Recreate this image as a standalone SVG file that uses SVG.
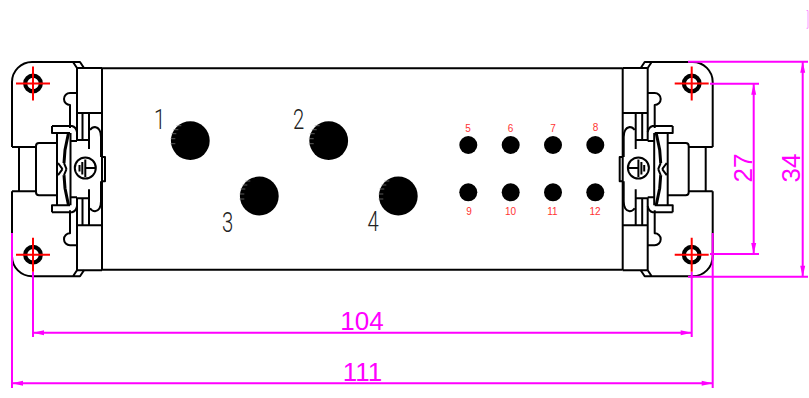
<svg xmlns="http://www.w3.org/2000/svg" width="809" height="398" viewBox="0 0 809 398">
<style>
.k{fill:none;stroke:#000;stroke-width:2;stroke-linejoin:round}
.t{fill:none;stroke:#000;stroke-width:3}
.r{fill:none;stroke:#f00;stroke-width:2}
.m{fill:none;stroke:#f0f;stroke-width:2}
.a{fill:#f0f}
.d{font-family:"Liberation Sans",Arial,sans-serif;font-size:26px;fill:#f0f;text-anchor:middle}
.n{font-family:"Liberation Sans",Arial,sans-serif;font-size:10px;fill:#f33;text-anchor:middle}
.l{font-family:Roboto,"Liberation Sans",sans-serif;font-weight:300;font-size:27px;fill:#222;text-anchor:middle}
</style>
<defs>
<g id="q">
<path class="k" d="M19 169.100V147M12 147V82A20 20 0 0 1 32 62H80L84 68M73 62L77 68M12 147H36M36 169.100V146Q36 143 39 143H57"/>
<path class="k" d="M77 68H102M77 68V140H89M77 113H102M82.500 113V140M89 113V149M77 93H70A6 6 0 0 0 70 105V128"/>
<path class="k" d="M52 126H72Q76 127 77 132M52 126V133H70M70.500 133V169.100M70.500 141H77M90 130Q92 127 95 127Q101 128 101 137V157M102 157H105V169.100"/>
<path class="k" d="M57 133V169.100M58 163L62.500 169.100M64 163L66.500 169.100"/>
<path class="t" d="M68.500 133L65 150L64 163"/>
<circle cx="33" cy="83.500" r="7.800" fill="#fff" stroke="#000" stroke-width="4.200"/>
<path class="r" d="M16 83.500H50M33 66.500V100.500"/>
</g>
<g id="big"><circle r="19.400"/><path d="M-19-7h5M-20-2h5M-20 3h5M-17-11h5M-14-15h5" stroke="#999" stroke-width=".6"/></g>
<path id="ah" class="a" d="M0 0L11-2.500V2.500Z"/>
</defs>
<g id="body"><path class="k" d="M102 68.300H622.700M102 269.700H622.700"/><path class="k" d="M102 68V270M622.700 68V270"/></g>
<g id="flange-left">
<use href="#q"/>
<use href="#q" transform="matrix(1 0 0 -1 0 338.200)"/>
</g>
<g id="flange-right">
<use href="#q" transform="matrix(-1 0 0 1 724.700 0)"/>
<use href="#q" transform="matrix(-1 0 0 -1 724.700 338.200)"/>
</g>
<g id="ground-left"><circle class="k" cx="85.300" cy="168" r="10.500"/><path class="k" d="M85.300 159.500V177M82.300 162V174.500M79.500 165V171.500M85.300 168H96"/></g>
<g id="ground-right"><circle class="k" cx="638.400" cy="168" r="10.500"/><path class="k" d="M638.400 159.500V177M641.400 162V174.500M644.200 165V171.500M638.400 168H627.700"/></g>
<g id="contacts-large">
<use href="#big" x="190.300" y="140.700"/><use href="#big" x="328.700" y="140.700"/>
<use href="#big" x="259.300" y="196"/><use href="#big" x="398.300" y="196"/>
<text class="l" transform="translate(159.500 129) scale(.75 1)">1</text>
<text class="l" transform="translate(298.500 129) scale(.75 1)">2</text>
<text class="l" transform="translate(227.500 232) scale(.75 1)">3</text>
<text class="l" transform="translate(373 231) scale(.75 1)">4</text>
</g>
<g id="contacts-small">
<circle cx="468.300" cy="145" r="9"/><circle cx="510.700" cy="145" r="9"/><circle cx="553" cy="145" r="9"/><circle cx="595.300" cy="145" r="9"/>
<circle cx="468.300" cy="192.300" r="9"/><circle cx="510.700" cy="192.300" r="9"/><circle cx="553" cy="192.300" r="9"/><circle cx="595.300" cy="192.300" r="9"/>
<text class="n" x="468" y="131.500">5</text><text class="n" x="510.500" y="131.500">6</text><text class="n" x="553" y="131.500">7</text><text class="n" x="595.500" y="131">8</text>
<text class="n" x="469" y="215">9</text><text class="n" x="510.500" y="215">10</text><text class="n" x="552.500" y="215">11</text><text class="n" x="595" y="215">12</text>
</g>
<g id="dimensions">
<path class="m" d="M33 272V337M691.700 272V337M33 332.700H691.700"/>
<path class="m" d="M12 233V388M712.700 233V388M12 383.300H712.700"/>
<path class="m" d="M688 61.700H808M688 276.700H808M802.700 61.700V276.700"/>
<path class="m" d="M710 83.700H759M710 254H759M753.700 83.700V254"/>
<use href="#ah" x="33" y="332.700"/><use href="#ah" transform="translate(691.700 332.700) rotate(180)"/>
<use href="#ah" x="12" y="383.300"/><use href="#ah" transform="translate(712.700 383.300) rotate(180)"/>
<use href="#ah" transform="translate(802.700 61.700) rotate(90)"/><use href="#ah" transform="translate(802.700 276.700) rotate(-90)"/>
<use href="#ah" transform="translate(753.700 83.700) rotate(90)"/><use href="#ah" transform="translate(753.700 254) rotate(-90)"/>
<text class="d" x="362" y="330">104</text>
<text class="d" x="362.500" y="381">111</text>
<text class="d" transform="translate(751.500 168) rotate(-90)">27</text>
<text class="d" transform="translate(800 168) rotate(-90)">34</text>
<path d="M806.500 10.500H808V28.300H806.500" fill="none" stroke="#f7f" stroke-width=".8"/>
</g>
</svg>
